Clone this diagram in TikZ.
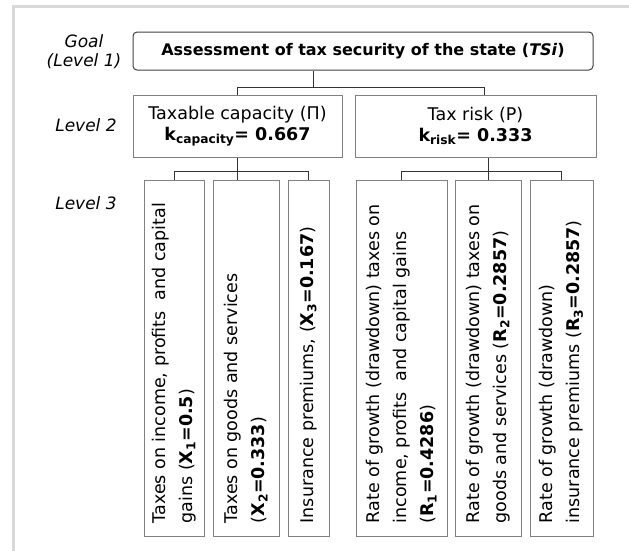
\documentclass[tikz,border=0pt]{standalone}
\usepackage{fontspec}
\setmainfont{DejaVu Sans}
\begin{document}
\begin{tikzpicture}[x=1pt,y=-1pt,
  lvl/.style={font=\fontsize{17}{19}\selectfont\itshape, align=center, inner sep=0pt},
  goalbox/.style={draw=black!75, line width=1pt, rounded corners=4pt, inner sep=0pt, font=\fontsize{16}{20}\selectfont\bfseries},
  capbox/.style={draw=black!50, line width=1pt, inner sep=0pt, align=center, font=\fontsize{17.5}{21}\selectfont},
  leafbox/.style={draw=black!50, line width=1pt, inner sep=0pt, minimum height=356pt},
  leaftext/.style={rotate=90, anchor=west, align=left, inner sep=0pt, font=\fontsize{17.5}{27}\selectfont},
  link/.style={draw=black!80, line width=1pt}
]
\useasboundingbox (0,0) rectangle (629,550);
\begin{scope}
  \clip (0,0) rectangle (629,550);
  \draw[draw=black!15, line width=3pt] (13.5,6) rectangle (660,580);
\end{scope}

% level labels
\node[lvl] (l1) at (84,51.5) {Goal\\(Level 1)};
\node[lvl] (l2) at (86,125) {Level 2};
\node[lvl] (l3) at (86,203) {Level 3};

% goal
\node[goalbox, minimum width=460pt, minimum height=38pt] (goal) at (363,51) {Assessment of tax security of the state (\textit{TSi})};

% level 2
\node[capbox, minimum width=209pt, minimum height=62pt] (cap) at (237.5,126) {Taxable capacity (П)\\ \textbf{k\textsubscript{capacity}= 0.667}};
\node[capbox, minimum width=241pt, minimum height=62pt] (risk) at (475.5,126) {Tax risk (P)\\ \textbf{k\textsubscript{risk}= 0.333}};

% level 3 boxes
\node[leafbox, minimum width=60pt] (A) at (174,358) {};
\node[leafbox, minimum width=66pt] (B) at (246,358) {};
\node[leafbox, minimum width=41pt] (C) at (308.5,358) {};
\node[leafbox, minimum width=91pt] (D) at (401.5,358) {};
\node[leafbox, minimum width=66pt] (E) at (488,358) {};
\node[leafbox, minimum width=63pt] (F) at (561.5,358) {};

% level 3 texts
\node[leaftext] (tA) at ([yshift=13pt]A.south) {Taxes on income, profits\ \ and capital\\gains (\textbf{X\textsubscript{1}=0.5})};
\node[leaftext] (tB) at ([yshift=13pt]B.south) {Taxes on goods and services\\(\textbf{X\textsubscript{2}=0.333})};
\node[leaftext] (tC) at ([yshift=13pt]C.south) {Insurance premiums, (\textbf{X\textsubscript{3}=0.167})};
\node[leaftext] (tD) at ([yshift=13pt]D.south) {Rate of growth (drawdown) taxes on\\income, profits\ \ and capital gains\\(\textbf{R\textsubscript{1}=0.4286})};
\node[leaftext] (tE) at ([yshift=13pt]E.south) {Rate of growth (drawdown) taxes on\\goods and services (\textbf{R\textsubscript{2}=0.2857})};
\node[leaftext] (tF) at ([yshift=13pt]F.south) {Rate of growth (drawdown)\\insurance premiums (\textbf{R\textsubscript{3}=0.2857})};

% connectors
\coordinate (j0) at (313,87);
\coordinate (j0r) at (484,87);
\draw[link] (goal.south -| j0) -- (j0);
\draw[link] (cap.north) |- (j0r) -- (j0r |- risk.north);

\draw[link] (cap.south) -- (cap.south |- B.north);
\draw[link] (A.north) -- ++(0,-8) -| (C.north);

\draw[link] (risk.south -| E.north) -- (E.north);
\draw[link] (D.north) -- ++(0,-8) -| (F.north);
\end{tikzpicture}
\end{document}
